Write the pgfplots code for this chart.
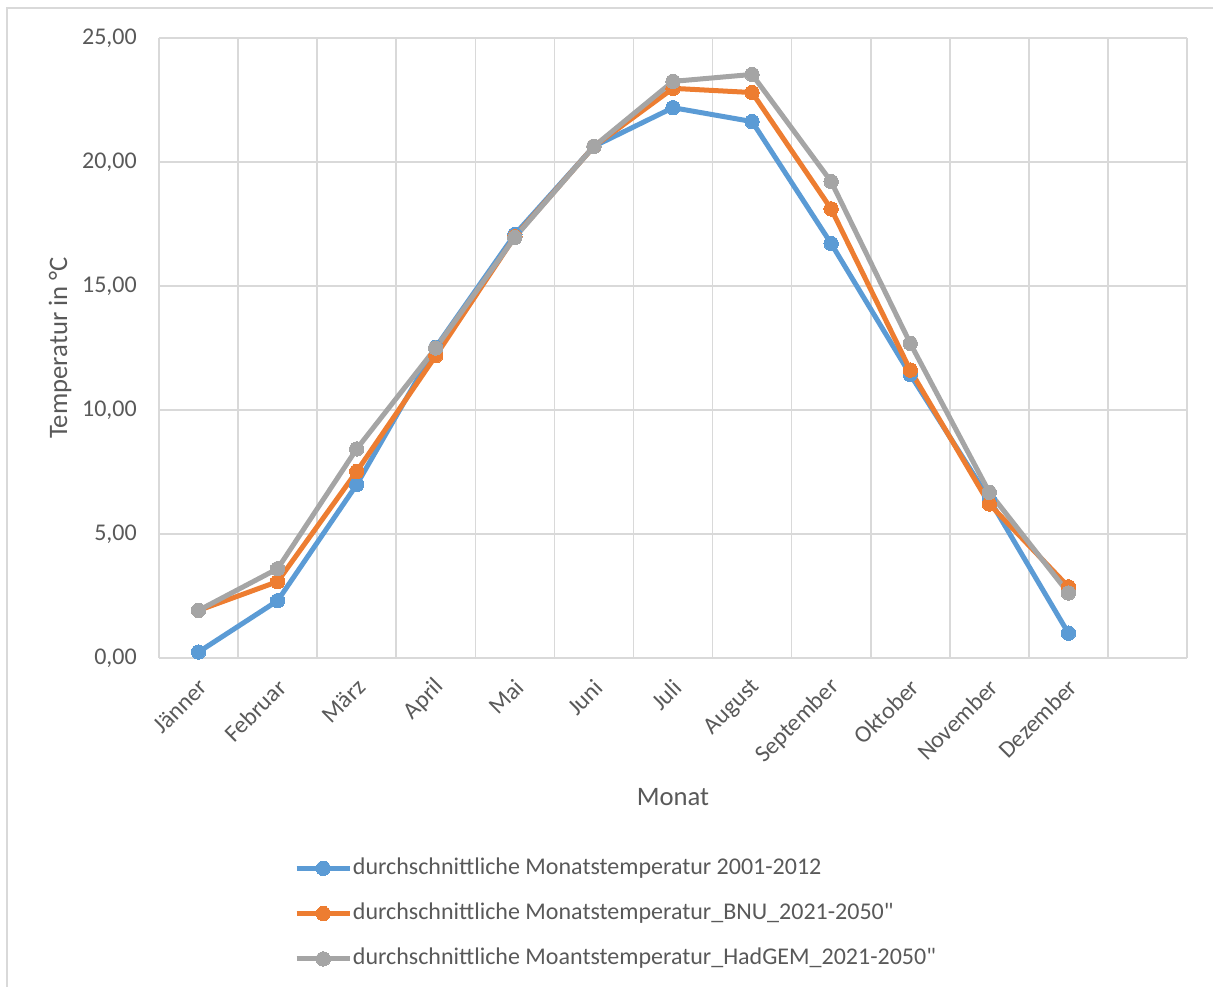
\documentclass[border=0pt]{standalone}
\usepackage{pgfplots}
\pgfplotsset{compat=1.18}
\usepackage{fontspec}
\setmainfont{Carlito}
% plain straight double quote (no TeX ligature mapping)
\newfontfamily\plainquote[Ligatures=TeXOff]{Carlito}
\newcommand{\dq}{{\plainquote\symbol{34}}}

\definecolor{serBlue}{HTML}{5B9BD5}
\definecolor{serOrange}{HTML}{ED7D31}
\definecolor{serGray}{HTML}{A5A5A5}
\definecolor{txtGray}{HTML}{595959}
\definecolor{gridGray}{HTML}{D9D9D9}

\begin{document}
\begin{tikzpicture}
% page area and chart frame
\useasboundingbox (0,0) rectangle (909.75pt,740.25pt);
\draw[gridGray, line width=1.5pt] (5.25pt,0pt) -- (5.25pt,734.25pt) -- (909.75pt,734.25pt);

\begin{axis}[
  at={(119.25pt,246.75pt)}, anchor=south west,
  scale only axis, width=771pt, height=465pt,
  xmin=-0.5, xmax=12.5, ymin=0, ymax=25,
  xtick={0,...,11},
  xticklabels={Jänner,Februar,März,April,Mai,Juni,Juli,August,September,Oktober,November,Dezember},
  minor xtick={-0.5,0.5,...,12.5},
  ytick={0,5,...,25},
  xminorgrids, ymajorgrids,
  grid style={gridGray, line width=1.2pt},
  minor grid style={gridGray, line width=1.2pt},
  axis line style={draw=none},
  major tick length=0pt, minor tick length=0pt,
  tick style={draw=none},
  /pgf/number format/.cd, fixed, fixed zerofill, precision=2, use comma, assume math mode=true,
  /pgfplots/.cd,
  tick label style={font=\fontsize{18}{22}\selectfont, text=txtGray},
  yticklabel style={anchor=east, inner sep=0pt, xshift=-16.5pt},
  xticklabel style={xshift=3.5pt, yshift=-19pt, rotate=45, anchor=east, inner sep=0pt},
  every axis x label/.style={at={(axis description cs:0.5,0)}, anchor=center, yshift=-104.25pt},
  every axis y label/.style={at={(axis description cs:0,0.5)}, anchor=center, rotate=90, yshift=74.25pt},
  label style={font=\fontsize{20}{24}\selectfont, text=txtGray},
  xlabel={Monat},
  ylabel={Temperatur in °C},
  legend cell align=left,
  legend style={draw=none, fill=none, at={(axis description cs:0.1313,0)}, anchor=north west,
    yshift=-147.5pt, font=\fontsize{18}{22}\selectfont, text=txtGray,
    row sep=14pt, inner sep=0pt,
    nodes={inner xsep=0.5pt, inner ysep=1.5pt, text height=13pt, text depth=4pt}},
  legend image code/.code={\draw[mark repeat=2, mark phase=2, #1] plot coordinates {(0pt,0pt) (19.875pt,0pt) (39.75pt,0pt)};},
  every axis plot/.append style={line width=3.75pt, line join=round, mark=*, mark size=5.4pt},
]
\addplot[serBlue, mark options={fill=serBlue, draw=serBlue, line width=0pt}] coordinates {
  (0,0.24) (1,2.31) (2,6.99) (3,12.53) (4,17.08) (5,20.63)
  (6,22.19) (7,21.63) (8,16.71) (9,11.43) (10,6.40) (11,1.00)};
\addlegendentry{durchschnittliche Monatstemperatur 2001-2012}
\addplot[serOrange, mark options={fill=serOrange, draw=serOrange, line width=0pt}] coordinates {
  (0,1.92) (1,3.08) (2,7.52) (3,12.19) (4,16.99) (5,20.63)
  (6,22.97) (7,22.80) (8,18.11) (9,11.61) (10,6.21) (11,2.87)};
\addlegendentry{durchschnittliche Monatstemperatur\_BNU\_2021-2050\dq}
\addplot[serGray, mark options={fill=serGray, draw=serGray, line width=0pt}] coordinates {
  (0,1.92) (1,3.60) (2,8.43) (3,12.50) (4,16.96) (5,20.63)
  (6,23.25) (7,23.53) (8,19.21) (9,12.69) (10,6.68) (11,2.62)};
\addlegendentry{durchschnittliche Moantstemperatur\_HadGEM\_2021-2050\dq}
\end{axis}
\end{tikzpicture}
\end{document}
